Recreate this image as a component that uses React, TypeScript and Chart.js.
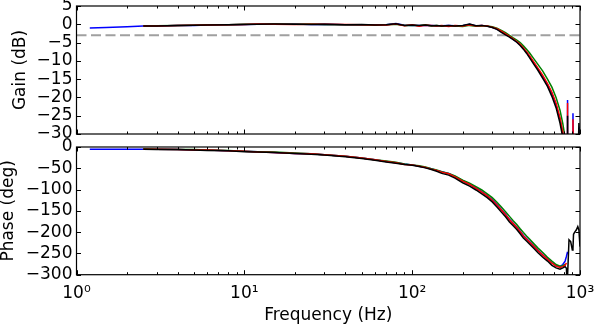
import React, { useEffect, useRef } from 'react';
import { Chart, registerables } from 'chart.js';
Chart.register(...registerables);

// Frequency grid (Hz)
const FREQ = [1.2, 1.5, 2, 2.5, 3, 4, 5, 6, 8, 10,
  12, 15, 20, 25, 30, 40, 50, 60, 70, 80,
  90, 100, 110, 120, 130, 140, 150, 165, 180, 200,
  220, 240, 260, 280, 300, 320, 340, 360, 380, 400,
  420, 440, 460, 480, 500, 530, 560, 600, 640, 680,
  720, 760, 790, 815, 830, 838, 841, 845, 860, 880,
  900, 908, 915, 930, 950, 970, 985, 1000];

// Gain (dB)
const GAIN_BLUE = [-1.0, -0.9, -0.7, -0.5, -0.45, -0.35, -0.3, -0.2, -0.1, -0.05,
  0, 0, 0.05, -0.05, 0, -0.15, -0.1, -0.15, -0.1, 0.2,
  -0.25, -0.3, -0.3, -0.3, -0.3, -0.4, -0.4, -0.35, -0.4, -0.4,
  0, -0.45, -0.3, -0.5, -0.85, -1.3, -2.0, -2.7, -3.4, -4.1,
  -4.8, -5.6, -6.6, -7.6, -8.8, -10.5, -12.1, -14.3, -16.5, -18.9,
  -22.0, -26.0, -30, -35, -40, -40, -20.7, -40, -40, -40,
  -40, -24.3, -40, -40, -40, -40, -40, -28];
const GAIN_GREEN = [null, null, null, -0.45, -0.4, -0.3, -0.25, -0.15, -0.1, 0,
  0, 0.05, 0, 0.05, -0.05, -0.1, -0.1, -0.25, -0.15, 0,
  -0.35, -0.25, -0.4, -0.15, -0.45, -0.35, -0.55, -0.4, -0.5, -0.6,
  -0.3, -0.55, -0.45, -0.5, -0.7, -1.1, -1.7, -2.3, -3.0, -3.7,
  -4.3, -5.0, -5.9, -6.8, -7.8, -9.4, -10.9, -12.8, -15.0, -17.2,
  -20.0, -23.5, -27.2, -31, -34, -40, -40, -40, -40, -40,
  -40, -40, -40, -40, -40, -40, -40, -40];
const GAIN_RED = [null, null, null, -0.5, -0.45, -0.35, -0.25, -0.2, -0.1, -0.05,
  0.05, 0, -0.05, 0, 0, -0.05, -0.15, -0.2, -0.2, 0.05,
  -0.4, -0.1, -0.5, -0.25, -0.35, -0.45, -0.35, -0.6, -0.35, -0.5,
  -0.1, -0.5, -0.35, -0.5, -0.8, -1.2, -1.9, -2.6, -3.3, -4.0,
  -4.7, -5.5, -6.5, -7.5, -8.6, -10.3, -11.9, -14.0, -16.2, -18.6,
  -21.6, -25.6, -29.5, -34, -40, -40, -21.5, -40, -40, -40,
  -40, -26, -40, -40, -40, -40, -40, -40];
const GAIN_BLACK = [null, null, null, -0.5, -0.45, -0.35, -0.25, -0.2, -0.1, -0.05,
  0, 0.05, 0, -0.05, 0, -0.1, -0.05, -0.2, -0.1, 0.15,
  -0.3, -0.2, -0.35, -0.2, -0.4, -0.3, -0.5, -0.3, -0.45, -0.35,
  0.05, -0.4, -0.3, -0.55, -0.9, -1.4, -2.2, -2.9, -3.5, -4.2,
  -4.9, -5.8, -6.8, -7.9, -9.1, -10.9, -12.5, -14.8, -17.0, -19.7,
  -22.8, -27.0, -31, -36, -40, -40, -25, -40, -40, -40,
  -40, -40, -40, -40, -40, -40, -27, -40];
const CUTOFF_DB = -3;

// Phase (deg)
const PHASE_BLUE = [-5, -5, -5, -5, -5, -6, -7, -7, -9, -10,
  -11, -13, -15, -16, -18, -22, -26, -30, -34, -37,
  -40, -42, -45, -48, -51, -55, -58, -62, -69, -79,
  -87, -96, -105, -114, -124, -135, -147, -158, -170, -179,
  -188, -198, -208, -215, -222, -232, -242, -253, -263, -272,
  -279, -281, -276, -268, -257, -250, -246, null, null, null,
  null, null, null, null, null, null, null, null];
const PHASE_GREEN = [null, null, null, -4, -5, -6, -6, -7, -8, -10,
  -11, -12, -14, -16, -18, -22, -26, -30, -33, -36,
  -40, -42, -44, -47, -51, -54, -58, -62, -68, -78,
  -85, -93, -101, -110, -119, -130, -141, -152, -163, -173,
  -182, -192, -201, -209, -216, -227, -237, -248, -259, -268,
  -276, -280, -279, -276, null, null, null, null, null, null,
  null, null, null, null, null, null, null, null];
const PHASE_RED = [null, null, null, -5, -5, -6, -7, -7, -9, -10,
  -12, -13, -15, -16, -18, -22, -26, -30, -34, -37,
  -41, -42, -45, -48, -52, -55, -59, -63, -70, -80,
  -88, -97, -106, -115, -125, -136, -148, -159, -171, -180,
  -189, -199, -209, -216, -223, -233, -243, -254, -264, -273,
  -280, -283, -281, -278, -272, null, null, null, null, null,
  null, null, null, null, null, null, null, null];
const PHASE_BLACK = [null, null, null, -5, -6, -6, -7, -8, -9, -11,
  -12, -13, -15, -17, -19, -23, -27, -31, -35, -38,
  -41, -43, -46, -49, -53, -57, -62, -66, -73, -84,
  -92, -101, -110, -119, -129, -141, -153, -164, -176, -185,
  -194, -204, -214, -221, -228, -238, -248, -259, -268, -278,
  -284, -287, -284, -281, -285, -330, -330, -330, -218, -222,
  -242, -238, -205, -200, -195, -187, -195, -234];

const X_TICK_VALUES = [1, 10, 100, 1000];
const X_TICK_LABELS = ['10\u2070', '10\u00b9', '10\u00b2', '10\u00b3'];
const GAIN_RANGE = [-30, 5];
const GAIN_STEP = 5;
const PHASE_RANGE = [-300, 0];
const PHASE_STEP = 50;

const FONT = 'DejaVu Sans';
const minus = (v: any) => String(v).replace('-', '\u2212');

const pts = (arr: (number | null)[]) => FREQ.map((f, i) => ({ x: f, y: arr[i] }));

const framePlugin = {
  id: 'frame',
  afterDatasetsDraw(chart: any) {
    const { ctx, chartArea } = chart;
    const { left, right, top, bottom } = chartArea;
    const xs = chart.scales.x;
    const ys = chart.scales.y;
    ctx.save();
    ctx.strokeStyle = '#000';
    ctx.lineWidth = 1;
    ctx.beginPath();
    const major = 4.5, minor = 2.5;
    for (let d = 1; d <= 1000; d *= 10) {
      for (let m = 1; m <= 9; m++) {
        const v = d * m;
        if (v > 1000) break;
        const px = Math.round(xs.getPixelForValue(v)) + 0.5;
        const len = m === 1 ? major : minor;
        ctx.moveTo(px, bottom); ctx.lineTo(px, bottom - len);
        ctx.moveTo(px, top); ctx.lineTo(px, top + len);
      }
    }
    for (const t of ys.ticks) {
      const py = Math.round(ys.getPixelForValue(t.value)) + 0.5;
      ctx.moveTo(left, py); ctx.lineTo(left + major, py);
      ctx.moveTo(right, py); ctx.lineTo(right - major, py);
    }
    ctx.stroke();
    ctx.lineWidth = 1.2;
    ctx.strokeRect(left, top, right - left, bottom - top);
    ctx.restore();
  },
};

const line = (data: any, color: string) => ({
  data,
  borderColor: color,
  backgroundColor: color,
  borderWidth: 1.5,
  pointRadius: 0,
  fill: false,
  tension: 0,
  spanGaps: false,
});

export default function App() {
  const topRef = useRef<HTMLCanvasElement>(null);
  const botRef = useRef<HTMLCanvasElement>(null);

  useEffect(() => {
    Chart.defaults.font.family = FONT;
    Chart.defaults.color = '#000';
    const tickFont = { family: FONT, size: 17 };
    const titleFont = { family: FONT, size: 17, lineHeight: 1 };

    const top = new Chart(topRef.current!, {
      type: 'line',
      data: {
        datasets: [
          line(pts(GAIN_BLACK), '#000000'),
          line(pts(GAIN_RED), '#ff0000'),
          line(pts(GAIN_GREEN), '#008000'),
          line(pts(GAIN_BLUE), '#0000ff'),
          {
            data: [{ x: 1, y: CUTOFF_DB }, { x: 1000, y: CUTOFF_DB }],
            borderColor: '#a0a0a0',
            borderWidth: 2,
            borderDash: [10, 4.5],
            pointRadius: 0,
          },
        ] as any,
      },
      options: {
        animation: false,
        responsive: false,
        devicePixelRatio: 1,
        layout: { padding: { left: 0, right: 18, top: 6, bottom: 12 } },
        plugins: { legend: { display: false }, tooltip: { enabled: false } },
        scales: {
          x: { type: 'logarithmic', min: 1, max: 1000, display: false },
          y: {
            min: GAIN_RANGE[0], max: GAIN_RANGE[1],
            ticks: { stepSize: GAIN_STEP, autoSkip: false, font: tickFont, color: '#000', padding: 4, callback: minus },
            grid: { display: false, drawTicks: false },
            border: { display: false },
            title: { display: true, text: 'Gain (dB)', font: titleFont, color: '#000', padding: { top: 12, bottom: 0 } },
            afterFit: (s: any) => { s.width = 76.5; s.paddingTop = 0; s.paddingBottom = 0; },
          },
        },
      } as any,
      plugins: [framePlugin],
    });

    const bot = new Chart(botRef.current!, {
      type: 'line',
      data: {
        datasets: [
          line(pts(PHASE_BLACK), '#000000'),
          line(pts(PHASE_RED), '#ff0000'),
          line(pts(PHASE_GREEN), '#008000'),
          line(pts(PHASE_BLUE), '#0000ff'),
        ] as any,
      },
      options: {
        animation: false,
        responsive: false,
        devicePixelRatio: 1,
        layout: { padding: { left: 0, right: 18, top: 13, bottom: 0 } },
        plugins: { legend: { display: false }, tooltip: { enabled: false } },
        scales: {
          x: {
            type: 'logarithmic', min: 1, max: 1000,
            afterBuildTicks: (s: any) => { s.ticks = X_TICK_VALUES.map((v) => ({ value: v })); },
            ticks: {
              autoSkip: false, maxRotation: 0, minRotation: 0, font: tickFont, color: '#000', padding: 9,
              callback: (v: any) => X_TICK_LABELS[X_TICK_VALUES.indexOf(Number(v))] ?? '',
            },
            grid: { display: false, drawTicks: false },
            border: { display: false },
            title: { display: true, text: 'Frequency (Hz)', font: titleFont, color: '#000', padding: { top: 0, bottom: 2 } },
            afterFit: (s: any) => { s.height = 51.3; s.paddingLeft = 0; s.paddingRight = 0; },
          },
          y: {
            min: PHASE_RANGE[0], max: PHASE_RANGE[1],
            ticks: { stepSize: PHASE_STEP, autoSkip: false, font: tickFont, color: '#000', padding: 4, callback: minus },
            grid: { display: false, drawTicks: false },
            border: { display: false },
            title: { display: true, text: 'Phase (deg)', font: titleFont, color: '#000', padding: { top: 0.5, bottom: 0 } },
            afterFit: (s: any) => { s.width = 76.5; s.paddingTop = 0; s.paddingBottom = 0; },
          },
        },
      } as any,
      plugins: [framePlugin],
    });

    return () => { top.destroy(); bot.destroy(); };
  }, []);

  return (
    <div style={{ position: 'absolute', left: 0, top: 0, width: 598, height: 326, background: '#fff' }}>
      <canvas ref={topRef} width={598} height={146}
        style={{ position: 'absolute', left: 0, top: 0, width: 598, height: 146, display: 'block' }} />
      <canvas ref={botRef} width={598} height={192}
        style={{ position: 'absolute', left: 0, top: 134, width: 598, height: 192, display: 'block' }} />
    </div>
  );
}
